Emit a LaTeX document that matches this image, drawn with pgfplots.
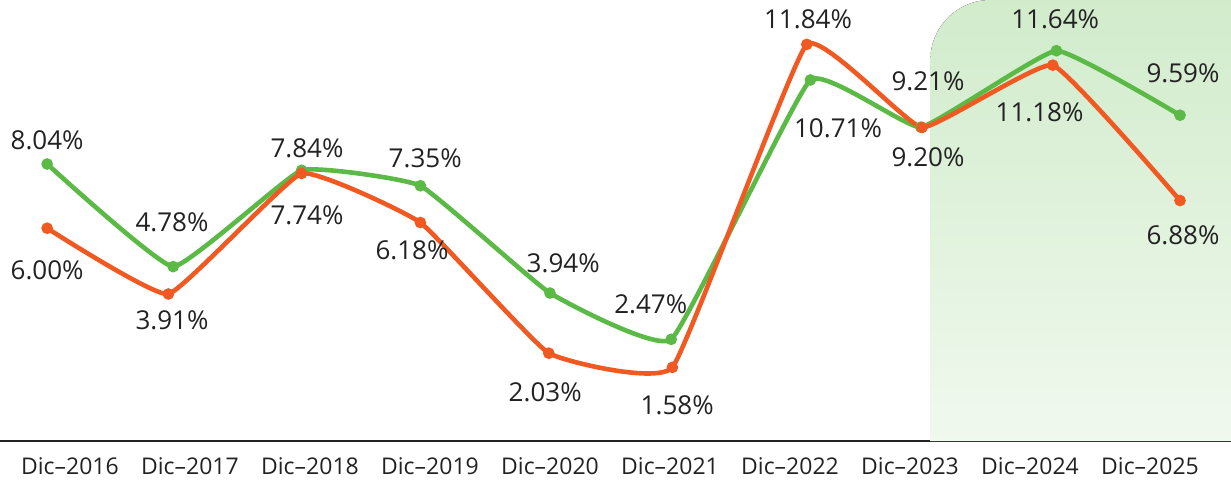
\documentclass[border=0pt]{standalone}
\usepackage{fontspec}
\setmainfont{Open Sans}
\usepackage{pgfplots}
\pgfplotsset{compat=1.18}

\definecolor{lgreen}{HTML}{5BB946}
\definecolor{lorange}{HTML}{F05A22}
\definecolor{txt}{HTML}{222222}

\begin{document}
\begin{tikzpicture}
\begin{axis}[
    scale only axis,
    width=615.5pt, height=220.5pt,
    xmin=-0.583, xmax=9.675,
    ymin=-0.76, ymax=13.25,
    axis x line=bottom, axis y line=none,
    axis line style={-, line width=0.7pt, color=txt},
    xtick={0,...,9},
    xticklabels={Dic–2016,Dic–2017,Dic–2018,Dic–2019,Dic–2020,Dic–2021,Dic–2022,Dic–2023,Dic–2024,Dic–2025},
    major tick length=0pt,
    xticklabel style={font=\fontsize{11.5}{13}\selectfont, text=txt, yshift=-5pt},
    clip=false,
]
% shaded projection area
\fill[top color=lgreen!28, bottom color=lgreen!9]
    (axis cs:9.675,-0.76) -- (axis cs:7.17,-0.76)
    [rounded corners=30pt] -- (axis cs:7.17,13.25)
    [sharp corners] -- (axis cs:9.675,13.25) -- cycle;

\addplot[color=lgreen, line width=2.3pt, smooth, tension=0.2, mark=*, mark size=1.7pt]
    coordinates {
    (-0.19,8.04) (0.86,4.78) (1.93,7.84) (2.92,7.35) (4.0,3.94)
    (5.01,2.47) (6.17,10.71) (7.09,9.21) (8.22,11.64) (9.25,9.59)};
\addplot[color=lorange, line width=2.3pt, smooth, tension=0.2, mark=*, mark size=1.7pt]
    coordinates {
    (-0.19,6.00) (0.82,3.91) (1.93,7.74) (2.92,6.18) (3.99,2.03)
    (5.02,1.58) (6.14,11.84) (7.10,9.20) (8.19,11.18) (9.25,6.88)};

\begin{scope}[every node/.style={font=\fontsize{13}{15}\selectfont, text=txt}]
\node at (axis cs:-0.19,8.80) {8.04\%};
\node at (axis cs:-0.19,4.68) {6.00\%};
\node at (axis cs:0.85,6.20) {4.78\%};
\node at (axis cs:0.85,3.09) {3.91\%};
\node at (axis cs:1.975,8.55) {7.84\%};
\node at (axis cs:1.975,6.42) {7.74\%};
\node at (axis cs:2.96,8.23) {7.35\%};
\node at (axis cs:2.85,5.31) {6.18\%};
\node at (axis cs:4.11,4.90) {3.94\%};
\node at (axis cs:3.96,0.80) {2.03\%};
\node at (axis cs:4.84,3.57) {2.47\%};
\node at (axis cs:5.06,0.39) {1.58\%};
\node at (axis cs:6.15,12.64) {11.84\%};
\node at (axis cs:6.40,9.18) {10.71\%};
\node at (axis cs:7.15,10.68) {9.21\%};
\node at (axis cs:7.15,8.26) {9.20\%};
\node at (axis cs:8.21,12.64) {11.64\%};
\node at (axis cs:8.08,9.69) {11.18\%};
\node at (axis cs:9.275,10.93) {9.59\%};
\node at (axis cs:9.275,5.76) {6.88\%};
\end{scope}
\end{axis}
\pgfresetboundingbox
\path[use as bounding box] (0,-21pt) rectangle (615.5pt,220.5pt);
\end{tikzpicture}
\end{document}
